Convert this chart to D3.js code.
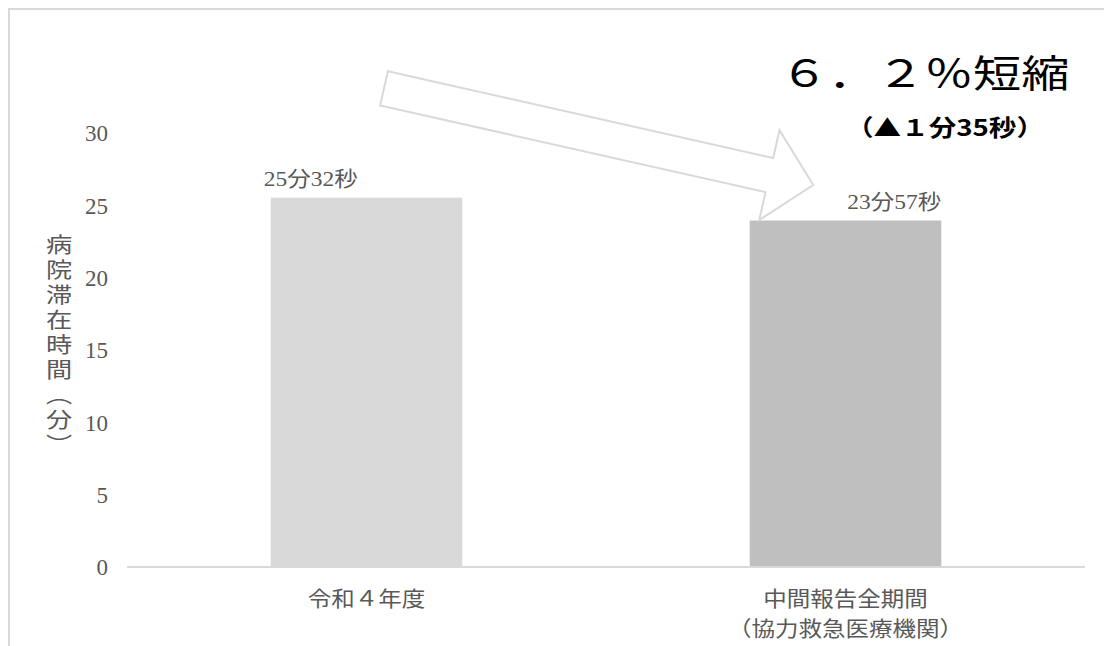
<!DOCTYPE html>
<html>
<head>
<meta charset="utf-8">
<script src="https://cdn.jsdelivr.net/npm/d3@7/dist/d3.min.js"></script>
<style>
  html, body { margin: 0; padding: 0; background: #ffffff; }
  svg { display: block; }
</style>
</head>
<body>
<svg id="chart" width="1104" height="646"></svg>
<script>
// ---- data ----
const categoryLines = [["令和４年度"], ["中間報告全期間", "（協力救急医療機関）"]];
const values = [25.53, 23.95];               // minutes (25分32秒, 23分57秒)
const valueLabels = ["25分32秒", "23分57秒"];
const barColors = ["#d9d9d9", "#bfbfbf"];
const yTicks = [0, 5, 10, 15, 20, 25, 30];
const yTitle = "病院滞在時間（分）";
const headline = "６．２％短縮";
const subline = "（▲１分35秒）";

// ---- layout ----
const W = 1104, H = 646;
const plot = { left: 127, right: 1085, top: 133, bottom: 567 };
const textGrey = "#595959";
const lineGrey = "#d9d9d9";
const sx = 1.18; // horizontal text stretch seen in the reference

const svg = d3.select("#chart");
svg.append("rect").attr("width", W).attr("height", H).attr("fill", "#fff");

// frame (top + left visible)
svg.append("path")
  .attr("d", `M9,${H} L9,9 L${W},9`)
  .attr("fill", "none").attr("stroke", lineGrey).attr("stroke-width", 2);

const x = d3.scaleBand()
  .domain(d3.range(values.length))
  .range([plot.left, plot.right])
  .paddingInner(0.6).paddingOuter(0.3);

const y = d3.scaleLinear().domain([0, 30]).range([plot.bottom, plot.top]);

// bars
svg.append("g").selectAll("rect").data(values).join("rect")
  .attr("x", (d, i) => x(i))
  .attr("y", d => y(d))
  .attr("width", x.bandwidth())
  .attr("height", d => y(0) - y(d))
  .attr("fill", (d, i) => barColors[i]);

// baseline axis line
svg.append("line")
  .attr("x1", plot.left).attr("x2", plot.right)
  .attr("y1", y(0)).attr("y2", y(0))
  .attr("stroke", lineGrey).attr("stroke-width", 2);

// y axis tick labels
const yAxis = d3.axisLeft(y).tickValues(yTicks).tickSize(0).tickPadding(0);
const yg = svg.append("g").attr("transform", `translate(108,0)`).call(yAxis);
yg.select(".domain").remove();
yg.selectAll("text")
  .attr("font-family", "'Liberation Serif', serif")
  .attr("font-size", 23)
  .attr("fill", textGrey)
  .attr("dy", "0.34em");

// helper for stretched text
function stretchedText(g, tx, ty, str, opts) {
  const t = g.append("text")
    .attr("transform", `translate(${tx},${ty}) scale(${opts.sx || sx},1)`)
    .attr("x", 0).attr("y", 0)
    .attr("text-anchor", opts.anchor || "start")
    .attr("font-family", opts.family || "'Liberation Serif', 'Noto Sans CJK JP', serif")
    .attr("font-size", opts.size)
    .attr("font-weight", opts.weight || "normal")
    .attr("fill", opts.fill || textGrey)
    .text(str);
  return t;
}

// value labels (placed like the reference: first left-aligned, second right-aligned)
const lg = svg.append("g");
values.forEach((v, i) => {
  const anchor = i === 0 ? "start" : "end";
  const xx = i === 0 ? x(i) - 7 : x(i) + x.bandwidth();
  stretchedText(lg, xx, y(v) - 12, valueLabels[i], { size: 21, anchor, sx: 1.12 });
});

// category labels
const cg = svg.append("g");
categoryLines.forEach((lines, i) => {
  lines.forEach((ln, j) => {
    stretchedText(cg, x(i) + x.bandwidth() / 2, 606 + j * 30, ln,
      { size: 21, anchor: "middle", sx: 1.12, family: "'Noto Sans CJK JP', sans-serif" });
  });
});

// y axis title (vertical)
svg.append("text")
  .attr("transform", `translate(59,234) scale(1.25,1)`)
  .attr("x", 0).attr("y", 0)
  .style("writing-mode", "vertical-rl")
  .attr("font-family", "'Noto Sans CJK JP', sans-serif")
  .attr("font-size", 21)
  .attr("letter-spacing", 4)
  .attr("fill", textGrey)
  .text(yTitle);

// arrow annotation (outlined block arrow from above bar 1 toward bar 2)
const tail = [384, 88.3], tip = [813.3, 185];
const L = Math.hypot(tip[0] - tail[0], tip[1] - tail[1]);
const u = [(tip[0] - tail[0]) / L, (tip[1] - tail[1]) / L];
const n = [-u[1], u[0]];
const baseAt = 395, shaftHalf = 17.5, headHalf = 46;
const P = (a, b) => [tail[0] + u[0] * a + n[0] * b, tail[1] + u[1] * a + n[1] * b];
const arrowPts = [P(0, -shaftHalf), P(baseAt, -shaftHalf), P(baseAt, -headHalf), P(L, 0),
                  P(baseAt, headHalf), P(baseAt, shaftHalf), P(0, shaftHalf)];
svg.append("path")
  .attr("d", d3.line()(arrowPts) + "Z")
  .attr("fill", "#ffffff")
  .attr("stroke", lineGrey)
  .attr("stroke-width", 2)
  .attr("stroke-linejoin", "miter");

// headline and subline
stretchedText(svg, 780, 87, headline,
  { size: 38, sx: 1.27, fill: "#000", family: "'Noto Sans CJK JP', sans-serif" });
stretchedText(svg, 945, 136, subline,
  { size: 23, sx: 1.2, anchor: "middle", fill: "#000", weight: "bold", family: "'Noto Sans CJK JP', sans-serif" });
</script>
</body>
</html>
